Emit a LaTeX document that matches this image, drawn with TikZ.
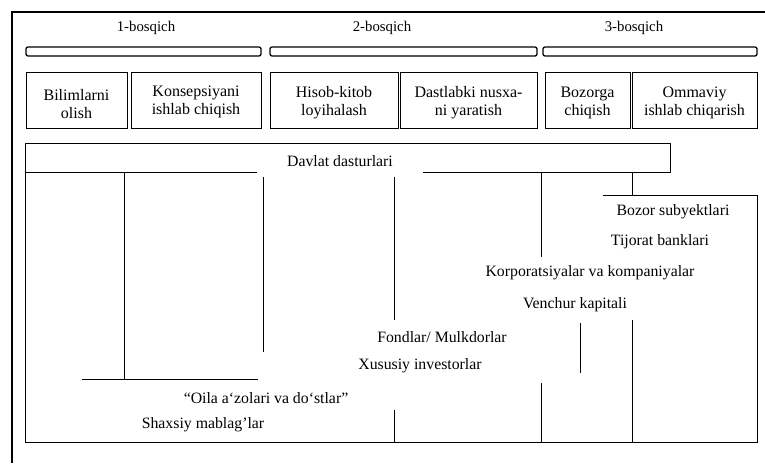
\documentclass[tikz,border=0pt]{standalone}
\usepackage{fontspec}
\setmainfont{Liberation Serif}
\begin{document}
\begin{tikzpicture}[x=1pt,y=-1pt,line width=0.9pt,
  lbl/.style={font=\fontsize{15.8}{18}\selectfont, inner sep=0pt},
  stagelbl/.style={font=\fontsize{14.8}{17}\selectfont, inner sep=0pt},
  stagebox/.style={draw, line width=0.8pt, align=center, inner sep=0pt,
    minimum height=56pt, font=\fontsize{16}{18}\selectfont},
  bar/.style={draw, line width=1.3pt, rounded corners=2pt},
  frame/.style={line width=1.6pt}]
\useasboundingbox (0,0) rectangle (765,463);
% outer frame
\draw[frame] (765,12) -- (12,12) -- (12,463);
% stage labels
\node[stagelbl] (p1) at (146,28) {1-bosqich};
\node[stagelbl] (p2) at (382,28) {2-bosqich};
\node[stagelbl] (p3) at (634,28) {3-bosqich};
% stage bars
\draw[bar] (26,47) rectangle (261,56);
\draw[bar] (270,47) rectangle (537,56);
\draw[bar] (543,47) rectangle (757,56);
% stage boxes
\node[stagebox, minimum width=101pt] (b1) at (76.5,100) {};
\node[stagebox, minimum width=130pt] (b2) at (196,100) {};
\node[stagebox, minimum width=128pt] (b3) at (334,100) {};
\node[stagebox, minimum width=137pt] (b4) at (468.5,100) {};
\node[stagebox, minimum width=85pt] (b5) at (587.5,100) {};
\node[stagebox, minimum width=125pt] (b6) at (694.5,100) {};
\node[stagebox, draw=none, minimum height=0pt] (t1) at ([yshift=-4pt]b1.center) {Bilimlarni\\olish};
\node[stagebox, draw=none, minimum height=0pt] (t2) at ([yshift=-2pt]b2.center) {Konsepsiyani\\ishlab chiqish};
\node[stagebox, draw=none, minimum height=0pt] (t3) at ([yshift=-3pt]b3.center) {Hisob-kitob\\loyihalash};
\node[stagebox, draw=none, minimum height=0pt] (t4) at ([yshift=-3pt]b4.center) {Dastlabki nusxa-\\ni yaratish};
\node[stagebox, draw=none, minimum height=0pt] (t5) at ([yshift=-3pt]b5.center) {Bozorga\\chiqish};
\node[stagebox, draw=none, minimum height=0pt] (t6) at ([yshift=-3pt]b6.center) {Ommaviy\\ishlab chiqarish};
% Davlat dasturlari
\draw (257,172) -- (25,172) -- (25,143) -- (670,143) -- (670,172) -- (423,172);
\node[lbl] (dav) at (340,161) {Davlat dasturlari};
% funding lines
\draw (25,172) -- (25,442) -- (757,442) -- (757,195) -- (603,195);
\draw (632,172) -- (632,195);
\draw (632,320) -- (632,442);
\draw (124,172) -- (124,379);
\draw (82,379) -- (258,379);
\draw (263,177) -- (263,352);
\draw (394,177) -- (394,320);
\draw (394,410) -- (394,442);
\draw (541,172) -- (541,257);
\draw (541,383) -- (541,442);
\draw (580,323) -- (580,373);
% funding labels
\node[lbl] (bs) at (673,212) {Bozor subyektlari};
\node[lbl] (tb) at (660,242) {Tijorat banklari};
\node[lbl] (kk) at (590,273) {Korporatsiyalar va kompaniyalar};
\node[lbl] (vk) at (575,305) {Venchur kapitali};
\node[lbl] (fm) at (442,337) {Fondlar/ Mulkdorlar};
\node[lbl] (xi) at (420,366) {Xususiy investorlar};
\node[lbl] (oa) at (266,398) {``Oila a`zolari va do`stlar''};
\node[lbl] (sm) at (203,425) {Shaxsiy mablag'lar};
\end{tikzpicture}
\end{document}
